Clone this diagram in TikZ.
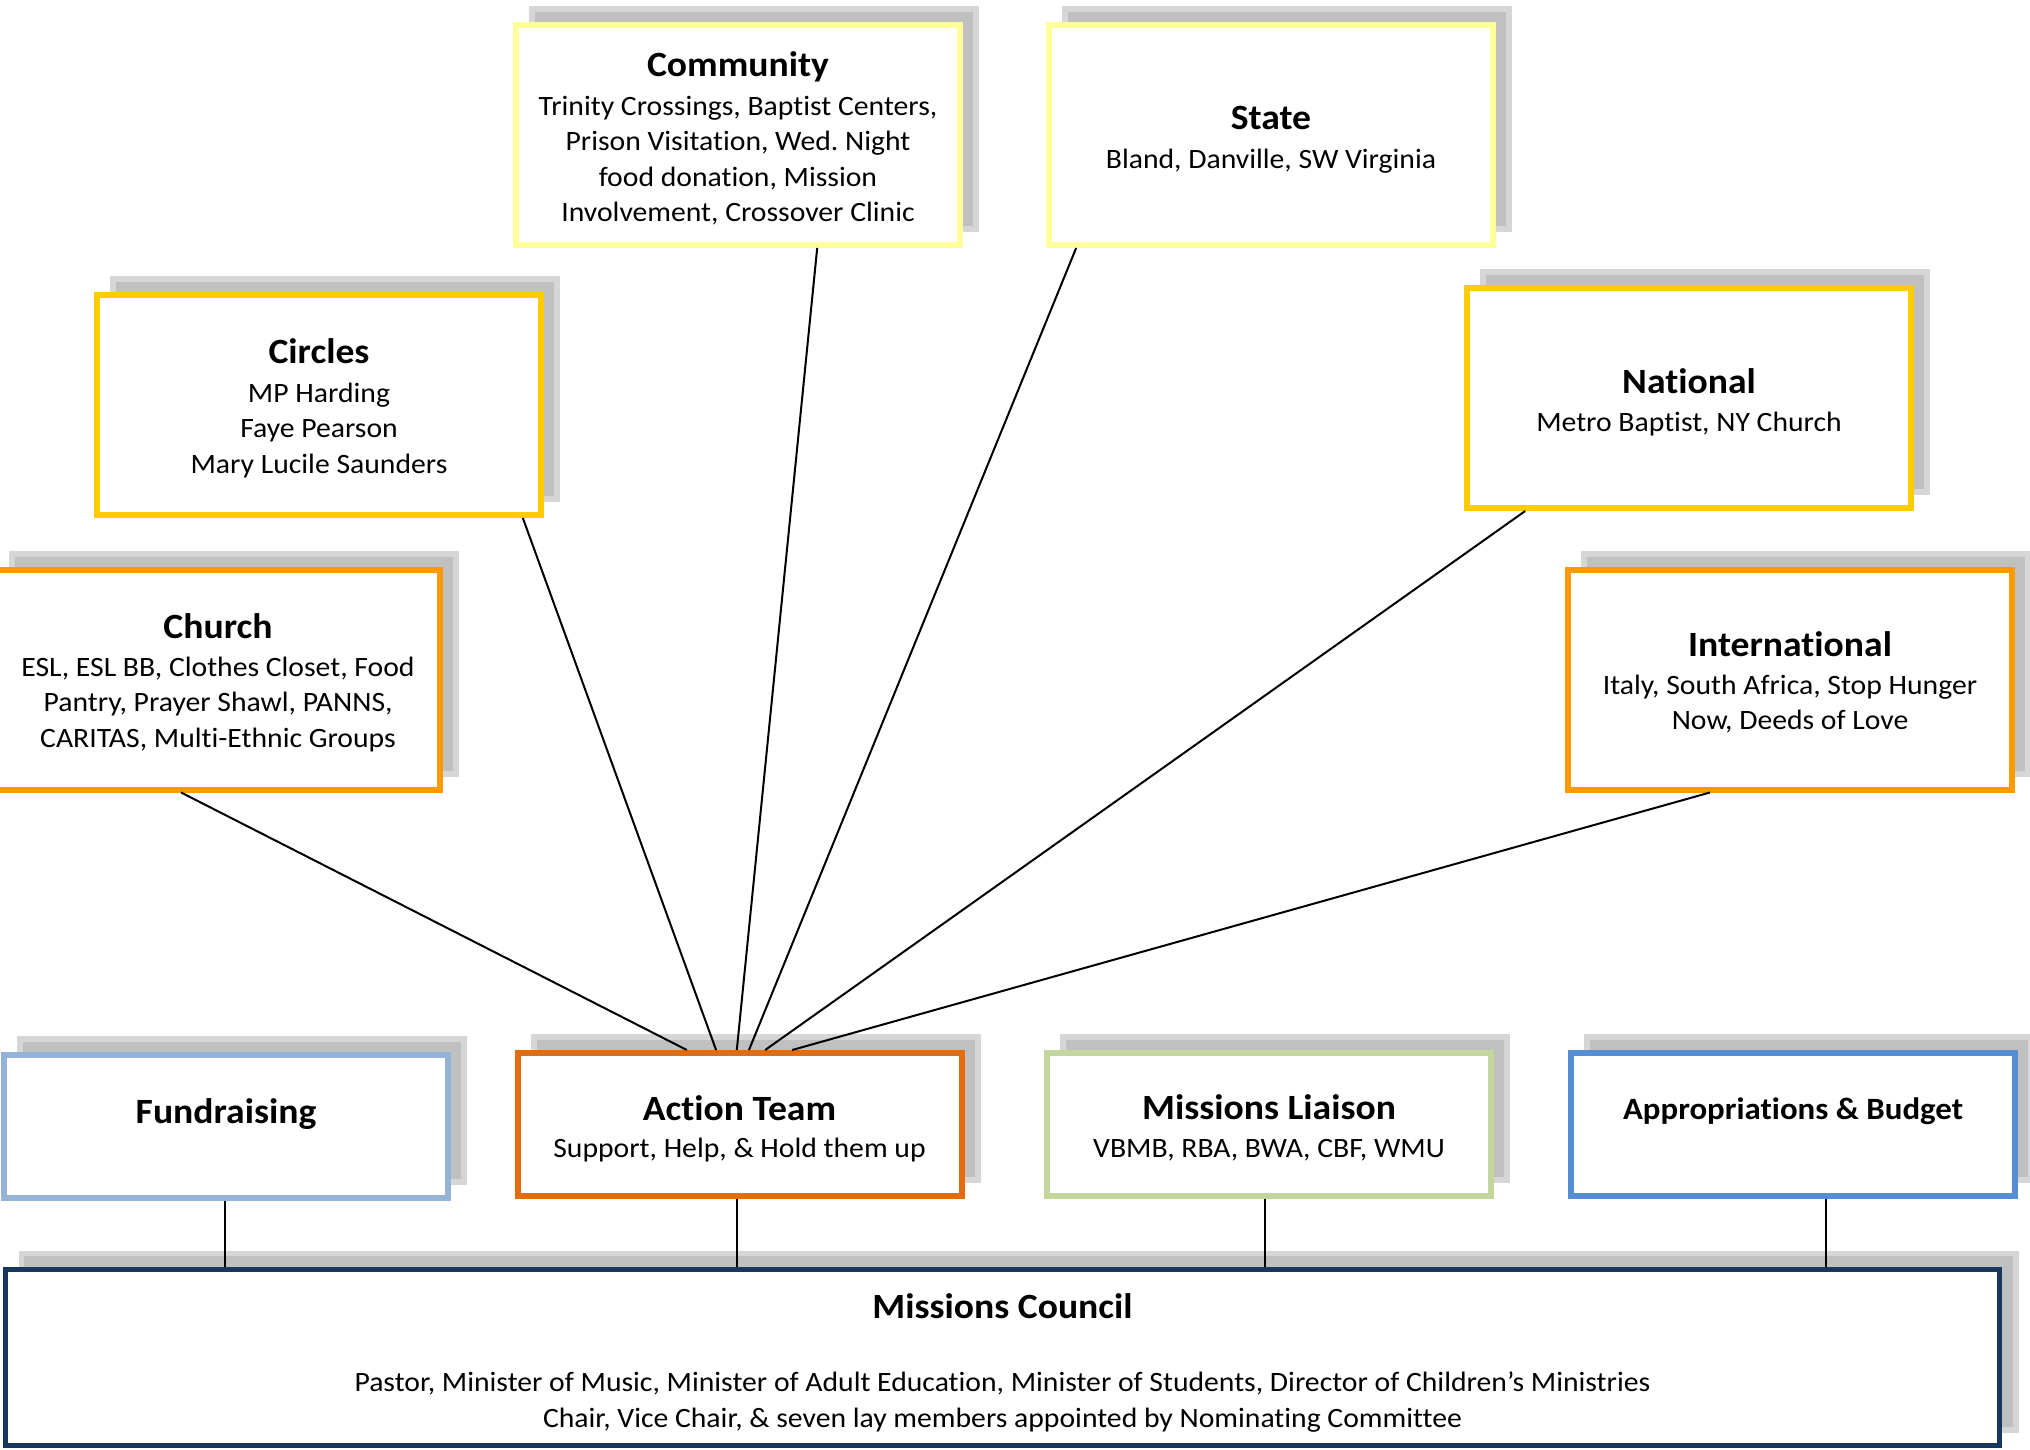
\documentclass[tikz,border=0pt]{standalone}
\usepackage{fontspec}
\setmainfont{Carlito}[FakeStretch=1.06, Ligatures=CommonOff]
\usetikzlibrary{calc}
\frenchspacing
\definecolor{lyellow}{HTML}{FFFF99}
\definecolor{gold}{HTML}{FFCC00}
\definecolor{orng}{HTML}{FF9900}
\definecolor{dorng}{HTML}{E46C0A}
\definecolor{lblue}{HTML}{95B3D7}
\definecolor{mblue}{HTML}{558ED5}
\definecolor{lgreen}{HTML}{C3D69B}
\definecolor{navy}{HTML}{17375E}
\definecolor{shadowgray}{HTML}{C0C0C0}
\definecolor{shadowedge}{HTML}{D6D6D6}
\tikzset{
  box/.style={rectangle, draw=#1, line width=6pt, fill=white, inner sep=0pt,
    minimum width=444pt, minimum height=220pt,
    preaction={draw=shadowedge, fill=shadowgray, line width=6pt,
      transform canvas={shift={(16pt,16pt)}}}},
  lowbox/.style={box=#1, minimum height=143pt},
  ttl/.style={anchor=base, inner sep=0pt, font=\fontsize{35.5}{40}\selectfont\bfseries},
  bdy/.style={anchor=base, inner sep=0pt, font=\fontsize{28}{35.5}\selectfont},
  conn/.style={draw=black, line width=2pt},
}
\newcommand{\lines}[1]{\begin{tabular}[t]{@{}c@{}}#1\end{tabular}}
\begin{document}
\begin{tikzpicture}[x=1pt, y=-1pt]
\useasboundingbox (0,0) rectangle (2030,1449);

% boxes
\node[box=lyellow] (community) at (738,135) {};
\node[box=lyellow] (state) at (1271,135) {};
\node[box=gold] (circles) at (319,405) {};
\node[box=gold] (national) at (1689,398) {};
\node[box=orng] (church) at (218,679.5) {};
\node[box=orng] (intl) at (1790,679.5) {};
\node[lowbox=lblue] (fund) at (226,1126.5) {};
\node[lowbox=dorng] (action) at (739.5,1124.5) {};
\node[lowbox=lgreen] (liaison) at (1269,1124.5) {};
\node[lowbox=mblue] (approp) at (1793,1124.5) {};
\node[box=navy, line width=5pt, minimum width=1994pt, minimum height=176pt,
  preaction={draw=shadowedge, fill=shadowgray, line width=5pt,
      transform canvas={shift={(16pt,16pt)}}}] (council) at (1002.5,1357.5) {};

% texts
\node[ttl] (communityT) at (738,76) {Community};
\node[bdy] (communityB) at (738,115) {\lines{Trinity Crossings, Baptist Centers,\\ Prison Visitation, Wed. Night\\ food donation, Mission\\ Involvement, Crossover Clinic}};
\node[ttl] (stateT) at (1271,129) {State};
\node[bdy] (stateB) at (1271,168) {Bland, Danville, SW Virginia};
\node[ttl] (circlesT) at (319,363) {Circles};
\node[bdy] (circlesB) at (319,402) {\lines{MP Harding\\ Faye Pearson\\ Mary Lucile Saunders}};
\node[ttl] (nationalT) at (1689,393) {National};
\node[bdy] (nationalB) at (1689,431) {Metro Baptist, NY Church};
\node[ttl] (churchT) at (218,638) {Church};
\node[bdy] (churchB) at (218,676) {\lines{ESL, ESL BB, Clothes Closet, Food\\ Pantry, Prayer Shawl, PANNS,\\ CARITAS, Multi-Ethnic Groups}};
\node[ttl] (intlT) at (1790,656) {International};
\node[bdy] (intlB) at (1790,694) {\lines{Italy, South Africa, Stop Hunger\\ Now, Deeds of Love}};
\node[ttl] (fundT) at (226,1123) {Fundraising};
\node[ttl] (actionT) at (739.5,1120) {Action Team};
\node[bdy] (actionB) at (739.5,1157) {Support, Help, \& Hold them up};
\node[ttl] (liaisonT) at (1269,1119) {Missions Liaison};
\node[bdy] (liaisonB) at (1269,1157) {VBMB, RBA, BWA, CBF, WMU};
\node[ttl, font=\fontsize{31}{36}\selectfont\bfseries] (appropT) at (1793,1119) {Appropriations \& Budget};
\node[ttl] (councilT) at (1002.5,1318) {Missions Council};
\node[bdy, font=\fontsize{28}{36}\selectfont] (councilB) at (1002.5,1391) {\lines{Pastor, Minister of Music, Minister of Adult Education, Minister of Students, Director of Children’s Ministries\\ Chair, Vice Chair, \& seven lay members appointed by Nominating Committee}};

% fan connectors
\draw[conn] ($(church.south west)!0.418!(church.south east)$) -- ($(action.north west)!0.383!(action.north east)$);
\draw[conn] ($(circles.south west)!0.953!(circles.south east)$) -- ($(action.north west)!0.448!(action.north east)$);
\draw[conn] ($(community.south west)!0.676!(community.south east)$) -- ($(action.north west)!0.494!(action.north east)$);
\draw[conn] ($(state.south west)!0.067!(state.south east)$) -- ($(action.north west)!0.521!(action.north east)$);
\draw[conn] ($(national.south west)!0.136!(national.south east)$) -- ($(action.north west)!0.557!(action.north east)$);
\draw[conn] ($(intl.south west)!0.322!(intl.south east)$) -- ($(action.north west)!0.617!(action.north east)$);

% vertical connectors to council
\coordinate (f1) at ($(fund.south west)!0.497!(fund.south east)$);
\coordinate (a1) at ($(action.south west)!0.494!(action.south east)$);
\coordinate (l1) at ($(liaison.south west)!0.491!(liaison.south east)$);
\coordinate (p1) at ($(approp.south west)!0.573!(approp.south east)$);
\draw[conn] (f1) -- (f1 |- council.north);
\draw[conn] (a1) -- (a1 |- council.north);
\draw[conn] (l1) -- (l1 |- council.north);
\draw[conn] (p1) -- (p1 |- council.north);
\end{tikzpicture}
\end{document}
